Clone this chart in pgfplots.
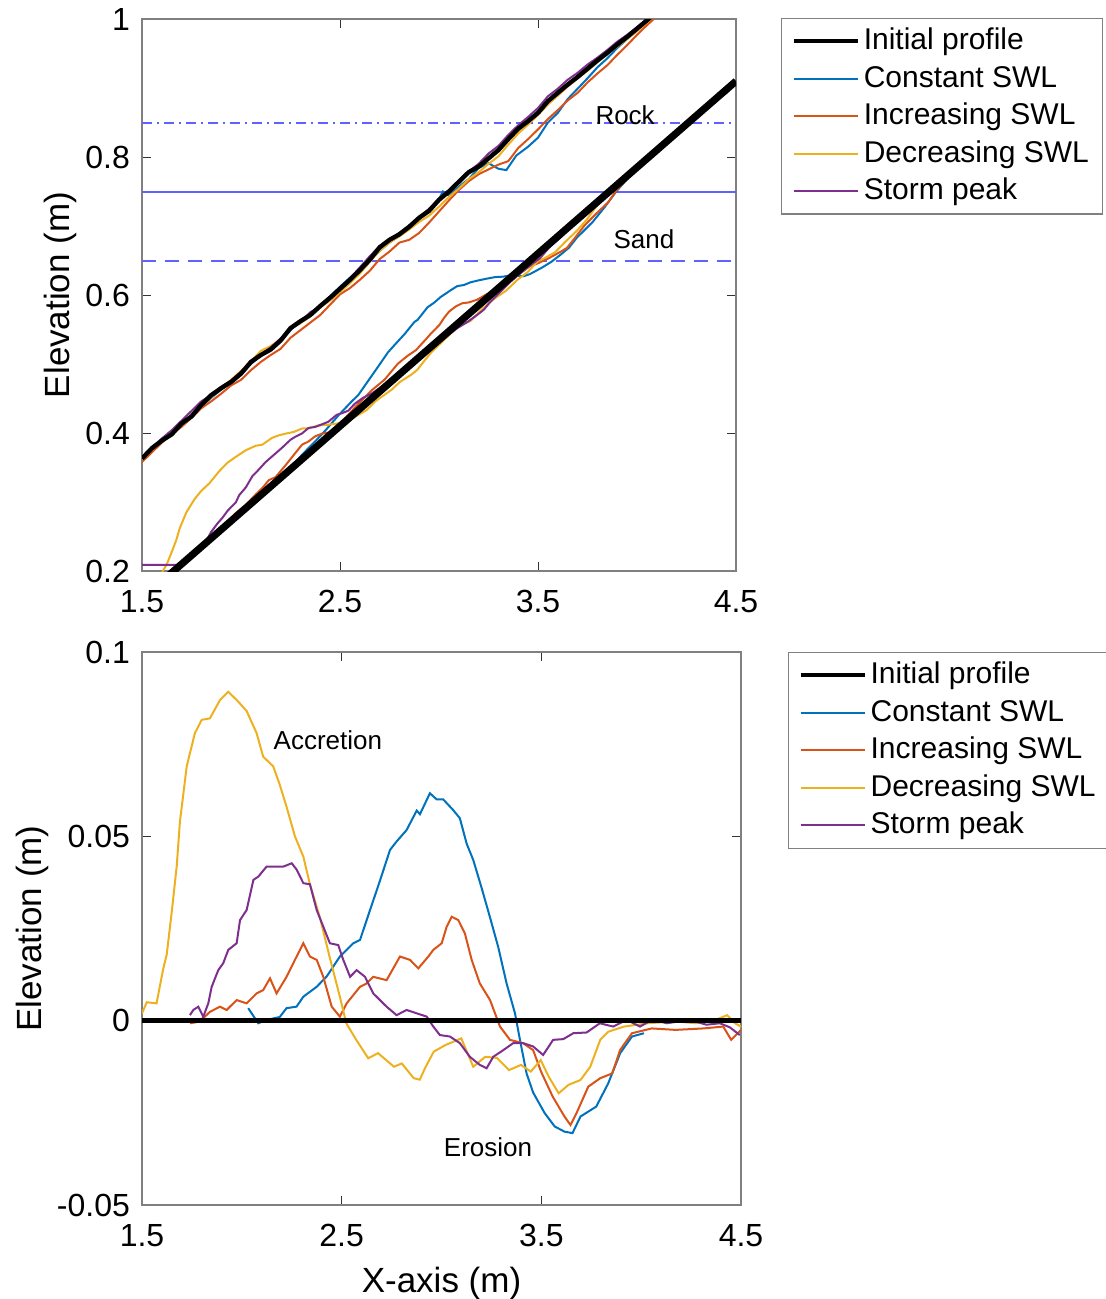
\documentclass[border=0pt]{standalone}
\usepackage{fontspec}
\setmainfont{Liberation Sans}
\usepackage{pgfplots}
\pgfplotsset{compat=1.18}
\definecolor{mblue}{rgb}{0,0.447,0.741}
\definecolor{morange}{rgb}{0.851,0.325,0.098}
\definecolor{myellow}{rgb}{0.929,0.694,0.125}
\definecolor{mpurple}{rgb}{0.494,0.184,0.557}
\definecolor{swlblue}{rgb}{0.38,0.38,1}
\definecolor{frame}{rgb}{0.5,0.5,0.5}

\pgfplotsset{
  matlab/.style={
    scale only axis,
    xmin=1.5, xmax=4.5,
    xtick={1.5,2.5,3.5,4.5},
    xticklabels={1.5,2.5,3.5,4.5},
    tick align=inside,
    major tick length=4.5pt,
    axis line style={frame, line width=0.6pt},
    tick style={black!80, line width=0.5pt},
    ticklabel style={font=\fontsize{16}{16}\selectfont},
    xticklabel style={yshift=-6pt},
    yticklabel style={xshift=-2.5pt},
    label style={font=\fontsize{17.5}{17.5}\selectfont},
    ylabel shift=-2.5pt,
    xlabel shift=3.5pt,
    legend cell align=left,
    legend style={draw=frame, line width=0.6pt, inner xsep=5pt, inner ysep=2pt,
      font=\fontsize{15}{15}\selectfont,
      nodes={inner ysep=2pt, inner xsep=2pt, text height=11.5pt, text depth=3.25pt}},
    legend image code/.code={\draw[#1] (0pt,0pt) -- (32pt,0pt);},
    every axis plot/.append style={line width=1pt},
  }
}

\begin{document}
\begin{tikzpicture}
\useasboundingbox (0,0) rectangle (552.5pt,-649.5pt);

% ---------- top: profiles ----------
\begin{axis}[matlab,
  at={(71pt,-285.5pt)}, anchor=south west,
  width=297pt, height=276pt,
  ymin=0.2, ymax=1,
  ytick={0.2,0.4,0.6,0.8,1}, yticklabels={0.2,0.4,0.6,0.8,1},
  ylabel={Elevation (m)},
  legend style={at={(1.076,1.002)}, anchor=north west},
]
\addlegendimage{black, line width=2pt}\addlegendentry{Initial profile}
\addlegendimage{mblue, line width=1pt}\addlegendentry{Constant SWL}
\addlegendimage{morange, line width=1pt}\addlegendentry{Increasing SWL}
\addlegendimage{myellow, line width=1pt}\addlegendentry{Decreasing SWL}
\addlegendimage{mpurple, line width=1pt}\addlegendentry{Storm peak}

% water levels
\addplot[forget plot, color=swlblue, line width=1pt, dash pattern=on 5pt off 2.5pt on 1pt off 2.5pt] coordinates {(1.5,0.85)(4.5,0.85)};
\addplot[forget plot, color=swlblue, line width=1pt, solid] coordinates {(1.5,0.75)(4.5,0.75)};
\addplot[forget plot, color=swlblue, line width=1pt, dash pattern=on 7pt off 4.5pt] coordinates {(1.5,0.65)(4.5,0.65)};

% rock, constant SWL
\addplot[forget plot, mblue] coordinates {
(1.50,0.361)(1.55,0.377)(1.60,0.387)(1.65,0.399)(1.70,0.413)(1.75,0.425)(1.80,0.439)(1.85,0.451)
(1.90,0.463)(1.95,0.475)(2.00,0.485)(2.05,0.500)(2.10,0.512)(2.15,0.522)(2.20,0.533)(2.25,0.549)
(2.30,0.563)(2.35,0.572)(2.40,0.585)(2.45,0.598)(2.50,0.612)(2.55,0.625)(2.60,0.637)(2.65,0.650)
(2.70,0.664)(2.75,0.676)(2.80,0.686)(2.85,0.698)(2.90,0.711)(2.95,0.722)(3.00,0.739)(3.02,0.750)
(3.05,0.744)(3.10,0.757)(3.15,0.768)(3.20,0.784)(3.25,0.791)(3.30,0.783)(3.34,0.781)(3.39,0.802)
(3.45,0.815)(3.50,0.828)(3.55,0.850)(3.60,0.864)(3.65,0.884)(3.70,0.899)(3.75,0.914)(3.80,0.930)
(3.85,0.943)(3.90,0.958)(3.95,0.971)(4.00,0.985)(4.05,1.000)(4.10,1.013)};
% rock, increasing SWL
\addplot[forget plot, morange] coordinates {
(1.50,0.358)(1.55,0.372)(1.60,0.386)(1.65,0.398)(1.70,0.409)(1.75,0.422)(1.80,0.436)(1.85,0.446)
(1.90,0.457)(1.95,0.469)(2.00,0.477)(2.05,0.491)(2.10,0.503)(2.15,0.513)(2.20,0.522)(2.25,0.538)
(2.30,0.549)(2.35,0.560)(2.40,0.571)(2.45,0.586)(2.50,0.601)(2.55,0.610)(2.60,0.622)(2.65,0.635)
(2.70,0.652)(2.75,0.663)(2.80,0.676)(2.85,0.680)(2.90,0.690)(2.95,0.705)(3.00,0.721)(3.05,0.737)
(3.10,0.752)(3.15,0.765)(3.20,0.775)(3.25,0.782)(3.30,0.789)(3.35,0.794)(3.40,0.813)(3.45,0.826)
(3.50,0.840)(3.55,0.855)(3.60,0.868)(3.65,0.882)(3.70,0.893)(3.75,0.908)(3.80,0.921)(3.85,0.933)
(3.90,0.948)(3.95,0.962)(4.00,0.977)(4.05,0.991)(4.10,1.004)};
% rock, decreasing SWL
\addplot[forget plot, myellow] coordinates {
(1.50,0.362)(1.55,0.376)(1.60,0.390)(1.65,0.401)(1.70,0.412)(1.75,0.427)(1.80,0.440)(1.85,0.452)
(1.90,0.466)(1.95,0.477)(2.00,0.490)(2.05,0.504)(2.10,0.519)(2.15,0.526)(2.20,0.536)(2.25,0.551)
(2.30,0.559)(2.35,0.569)(2.40,0.582)(2.45,0.592)(2.50,0.604)(2.55,0.617)(2.60,0.631)(2.65,0.648)
(2.70,0.664)(2.75,0.676)(2.80,0.685)(2.85,0.695)(2.90,0.706)(2.95,0.715)(3.00,0.728)(3.05,0.742)
(3.10,0.754)(3.15,0.768)(3.20,0.778)(3.25,0.790)(3.30,0.801)(3.35,0.818)(3.40,0.834)(3.45,0.847)
(3.50,0.861)(3.55,0.876)(3.60,0.889)(3.65,0.902)(3.70,0.914)(3.75,0.925)(3.80,0.937)(3.85,0.949)
(3.90,0.960)(3.95,0.971)(4.00,0.982)(4.05,0.995)(4.10,1.007)};
% rock, storm peak
\addplot[forget plot, mpurple] coordinates {
(1.50,0.364)(1.55,0.377)(1.60,0.392)(1.65,0.404)(1.70,0.418)(1.75,0.432)(1.80,0.446)(1.85,0.455)
(1.90,0.467)(1.95,0.476)(2.00,0.489)(2.05,0.502)(2.10,0.514)(2.15,0.524)(2.20,0.537)(2.25,0.550)
(2.30,0.561)(2.35,0.575)(2.40,0.583)(2.45,0.597)(2.50,0.611)(2.55,0.624)(2.60,0.640)(2.65,0.656)
(2.70,0.671)(2.75,0.680)(2.80,0.690)(2.85,0.701)(2.90,0.713)(2.95,0.725)(3.00,0.739)(3.05,0.752)
(3.10,0.766)(3.15,0.779)(3.20,0.790)(3.25,0.805)(3.30,0.816)(3.35,0.832)(3.40,0.846)(3.45,0.858)
(3.50,0.871)(3.55,0.888)(3.60,0.899)(3.65,0.912)(3.70,0.922)(3.75,0.934)(3.80,0.944)(3.85,0.955)
(3.90,0.967)(3.95,0.977)(4.00,0.988)(4.05,1.000)(4.10,1.012)};
% rock, initial
\addplot[forget plot, black, line width=2.2pt] coordinates {
(1.50,0.363)(1.55,0.378)(1.60,0.389)(1.65,0.398)(1.70,0.414)(1.75,0.424)(1.80,0.441)(1.85,0.455)
(1.90,0.465)(1.95,0.474)(2.00,0.486)(2.05,0.503)(2.10,0.513)(2.15,0.521)(2.20,0.534)(2.25,0.552)
(2.30,0.562)(2.35,0.571)(2.40,0.584)(2.45,0.596)(2.50,0.609)(2.55,0.622)(2.60,0.636)(2.65,0.651)
(2.70,0.669)(2.75,0.680)(2.80,0.688)(2.85,0.699)(2.90,0.712)(2.95,0.722)(3.00,0.738)(3.05,0.750)
(3.10,0.764)(3.15,0.778)(3.20,0.786)(3.25,0.798)(3.30,0.810)(3.35,0.826)(3.40,0.841)(3.45,0.852)
(3.50,0.864)(3.55,0.881)(3.60,0.893)(3.65,0.905)(3.70,0.916)(3.75,0.928)(3.80,0.940)(3.85,0.951)
(3.90,0.963)(3.95,0.974)(4.00,0.986)(4.05,0.998)(4.10,1.010)};

% sand, constant SWL
\addplot[forget plot, mblue] coordinates {
(2.032,0.2964)(2.082,0.3048)(2.124,0.3162)(2.19,0.3335)(2.224,0.3444)(2.274,0.3573)(2.308,0.3685)
(2.375,0.388)(2.425,0.4033)(2.491,0.4252)(2.558,0.4455)(2.592,0.4549)(2.642,0.4755)(2.692,0.496)
(2.742,0.5168)(2.775,0.5274)(2.825,0.543)(2.876,0.561)(2.892,0.564)(2.942,0.5822)(2.976,0.589)
(3.009,0.5973)(3.059,0.6069)(3.092,0.6129)(3.126,0.6145)(3.159,0.6184)(3.201,0.6213)(3.243,0.6238)
(3.284,0.626)(3.326,0.6266)(3.368,0.629)(3.393,0.628)(3.426,0.6272)(3.459,0.6303)(3.517,0.6392)
(3.567,0.648)(3.616,0.6589)(3.656,0.6685)(3.696,0.683)(3.775,0.7055)(3.835,0.7268)(3.895,0.75)
(3.954,0.7692)(4.014,0.7851)(4.2,0.832)(4.5,0.906)};
% sand, increasing SWL
\addplot[forget plot, morange] coordinates {
(1.740,0.2193)(1.774,0.2281)(1.815,0.2399)(1.84,0.2474)(1.891,0.2616)(1.924,0.2689)(1.974,0.2841)
(2.024,0.2957)(2.074,0.3109)(2.107,0.3201)(2.141,0.3318)(2.174,0.3359)(2.224,0.3529)(2.266,0.368)
(2.308,0.383)(2.341,0.3877)(2.375,0.3953)(2.408,0.3989)(2.45,0.4013)(2.491,0.4089)(2.525,0.421)
(2.592,0.4422)(2.625,0.4514)(2.658,0.4614)(2.725,0.4773)(2.792,0.5004)(2.842,0.512)(2.884,0.5202)
(2.934,0.5359)(2.959,0.544)(3.001,0.5563)(3.026,0.567)(3.051,0.576)(3.084,0.5833)(3.117,0.588)
(3.151,0.5893)(3.192,0.5931)(3.243,0.6014)(3.293,0.6067)(3.343,0.6156)(3.409,0.6312)(3.459,0.6418)
(3.5,0.646)(3.557,0.6537)(3.616,0.663)(3.646,0.6682)(3.676,0.6789)(3.735,0.7009)(3.795,0.7182)
(3.855,0.7345)(3.895,0.7509)(3.954,0.7701)(4.053,0.7962)(4.172,0.8255)(4.312,0.8609)(4.411,0.8862)
(4.451,0.8926)(4.5,0.9075)};
% sand, decreasing SWL
\addplot[forget plot, myellow] coordinates {
(1.573,0.183)(1.606,0.2005)(1.624,0.209)(1.65,0.2275)(1.674,0.2455)(1.69,0.2615)(1.724,0.285)
(1.765,0.304)(1.799,0.316)(1.84,0.327)(1.891,0.345)(1.932,0.357)(1.974,0.3655)(2.024,0.375)
(2.074,0.3815)(2.107,0.383)(2.157,0.393)(2.19,0.3965)(2.224,0.399)(2.266,0.4015)(2.308,0.4065)
(2.341,0.407)(2.391,0.411)(2.441,0.412)(2.491,0.414)(2.523,0.415)(2.573,0.423)(2.633,0.433)
(2.682,0.4467)(2.762,0.463)(2.801,0.4737)(2.861,0.4847)(2.891,0.4918)(2.921,0.5028)(2.961,0.5169)
(3.02,0.5334)(3.099,0.555)(3.159,0.5623)(3.219,0.58)(3.278,0.5944)(3.338,0.6061)(3.398,0.6225)
(3.447,0.633)(3.497,0.6486)(3.537,0.654)(3.587,0.662)(3.636,0.6766)(3.696,0.693)(3.745,0.7088)
(3.795,0.7286)(3.835,0.7408)(3.914,0.762)(4.033,0.7926)(4.172,0.8278)(4.272,0.8523)(4.371,0.878)
(4.431,0.8943)(4.5,0.9084)};
% sand, storm peak
\addplot[forget plot, mpurple] coordinates {
(1.5,0.209)(1.68,0.209)(1.740,0.2215)(1.757,0.2272)(1.782,0.2343)(1.807,0.2379)(1.832,0.2477)
(1.849,0.2565)(1.882,0.2692)(1.907,0.2774)(1.932,0.2872)(1.974,0.2995)(1.991,0.31)(2.024,0.321)
(2.058,0.3377)(2.083,0.3449)(2.124,0.3578)(2.174,0.3703)(2.208,0.3788)(2.25,0.3902)(2.274,0.3945)
(2.308,0.3993)(2.341,0.4073)(2.375,0.4088)(2.408,0.4125)(2.441,0.4163)(2.483,0.4263)(2.508,0.4285)
(2.542,0.4324)(2.575,0.4425)(2.617,0.4512)(2.658,0.4569)(2.725,0.4701)(2.775,0.4803)(2.825,0.4942)
(2.876,0.506)(2.926,0.5176)(2.959,0.5232)(2.992,0.5291)(3.042,0.5412)(3.092,0.5519)(3.142,0.5607)
(3.192,0.571)(3.226,0.5786)(3.259,0.59)(3.309,0.6043)(3.359,0.6187)(3.409,0.6312)(3.459,0.6428)
(3.509,0.653)(3.559,0.6696)(3.61,0.6825)(3.66,0.6966)(3.727,0.7136)(3.793,0.7326)(3.86,0.7484)
(3.927,0.767)(3.994,0.7819)(4.06,0.8004)(4.127,0.8161)(4.244,0.8462)(4.327,0.8657)(4.394,0.8828)
(4.444,0.8942)(4.494,0.9046)};
% sand, initial
\addplot[forget plot, black, line width=3.6pt] coordinates {(1.62,0.19)(2.5,0.41)(3.5,0.66)(4.5,0.91)};

\node[font=\fontsize{13}{13}\selectfont] at (axis cs:3.94,0.861) {Rock};
\node[font=\fontsize{13}{13}\selectfont] at (axis cs:4.035,0.681) {Sand};
\end{axis}

% ---------- bottom: change ----------
\begin{axis}[matlab,
  at={(71pt,-602.5pt)}, anchor=south west,
  width=299.5pt, height=276.5pt,
  ymin=-0.05, ymax=0.1,
  ytick={-0.05,0,0.05,0.1}, yticklabels={-0.05,0,0.05,0.1},
  ylabel={Elevation (m)}, xlabel={X-axis (m)},
  legend style={at={(1.0785,1.0)}, anchor=north west},
]
\addlegendimage{black, line width=2pt}\addlegendentry{Initial profile}
\addlegendimage{mblue, line width=1pt}\addlegendentry{Constant SWL}
\addlegendimage{morange, line width=1pt}\addlegendentry{Increasing SWL}
\addlegendimage{myellow, line width=1pt}\addlegendentry{Decreasing SWL}
\addlegendimage{mpurple, line width=1pt}\addlegendentry{Storm peak}

\addplot[forget plot, mblue] coordinates {
(2.032,0.0034)(2.082,-0.0007)(2.124,0.0002)(2.19,0.001)(2.224,0.0034)(2.274,0.0038)(2.308,0.0065)
(2.375,0.0092)(2.425,0.012)(2.491,0.0174)(2.558,0.021)(2.592,0.0219)(2.642,0.030)(2.692,0.038)
(2.742,0.0463)(2.775,0.0486)(2.825,0.0517)(2.876,0.057)(2.892,0.056)(2.942,0.0617)(2.976,0.060)
(3.009,0.060)(3.059,0.0571)(3.092,0.0549)(3.126,0.048)(3.159,0.0436)(3.201,0.036)(3.243,0.028)
(3.284,0.020)(3.326,0.0101)(3.368,0.002)(3.393,-0.0052)(3.426,-0.0143)(3.459,-0.0195)(3.517,-0.0251)
(3.567,-0.0287)(3.616,-0.0301)(3.656,-0.0305)(3.696,-0.026)(3.775,-0.0233)(3.835,-0.017)
(3.895,-0.0088)(3.954,-0.0043)(4.014,-0.0034)};
\addplot[forget plot, morange] coordinates {
(1.740,-0.0007)(1.774,-0.0004)(1.815,0.0011)(1.84,0.0024)(1.891,0.0038)(1.924,0.0029)(1.974,0.0056)
(2.024,0.0047)(2.074,0.0074)(2.107,0.0083)(2.141,0.0115)(2.174,0.0074)(2.224,0.0119)(2.266,0.0165)
(2.308,0.021)(2.341,0.0174)(2.375,0.0165)(2.408,0.0119)(2.45,0.0038)(2.491,0.0011)(2.525,0.0047)
(2.592,0.0092)(2.625,0.0101)(2.658,0.0119)(2.725,0.011)(2.792,0.0174)(2.842,0.0165)(2.884,0.0142)
(2.934,0.0174)(2.959,0.0192)(3.001,0.021)(3.026,0.0255)(3.051,0.0282)(3.084,0.0273)(3.117,0.0237)
(3.151,0.0165)(3.192,0.0101)(3.243,0.0056)(3.293,-0.0016)(3.343,-0.0052)(3.409,-0.0061)(3.459,-0.008)
(3.5,-0.014)(3.557,-0.0206)(3.616,-0.026)(3.646,-0.0283)(3.676,-0.0251)(3.735,-0.0179)(3.795,-0.0156)
(3.855,-0.0143)(3.895,-0.0079)(3.954,-0.0034)(4.053,-0.0021)(4.172,-0.0025)(4.312,-0.0021)
(4.411,-0.0016)(4.451,-0.0052)(4.5,-0.0025)};
\addplot[forget plot, myellow] coordinates {
(1.5,0.002)(1.524,0.005)(1.573,0.0047)(1.606,0.014)(1.624,0.018)(1.65,0.030)(1.674,0.042)(1.69,0.054)
(1.724,0.069)(1.765,0.078)(1.799,0.0816)(1.84,0.082)(1.891,0.087)(1.932,0.0892)(1.974,0.087)
(2.024,0.084)(2.074,0.078)(2.107,0.0716)(2.157,0.069)(2.19,0.064)(2.224,0.058)(2.266,0.050)
(2.308,0.0445)(2.341,0.037)(2.391,0.028)(2.441,0.017)(2.491,0.0065)(2.523,-0.0007)(2.573,-0.0052)
(2.633,-0.0102)(2.682,-0.0088)(2.762,-0.0125)(2.801,-0.0116)(2.861,-0.0156)(2.891,-0.016)
(2.921,-0.0125)(2.961,-0.0084)(3.02,-0.0066)(3.099,-0.0048)(3.159,-0.0125)(3.219,-0.0098)
(3.278,-0.0101)(3.338,-0.0134)(3.398,-0.012)(3.447,-0.0138)(3.497,-0.0107)(3.537,-0.0152)
(3.587,-0.0197)(3.636,-0.0174)(3.696,-0.0161)(3.745,-0.0125)(3.795,-0.0052)(3.835,-0.003)
(3.914,-0.0016)(4.033,-0.0007)(4.172,-0.0002)(4.272,-0.0007)(4.371,0.0002)(4.431,0.0015)
(4.47,-0.0007)(4.5,-0.0016)};
\addplot[forget plot, mpurple] coordinates {
(1.740,0.0015)(1.757,0.0029)(1.782,0.0038)(1.807,0.0011)(1.832,0.0047)(1.849,0.0092)(1.882,0.0137)
(1.907,0.0156)(1.932,0.0192)(1.974,0.021)(1.991,0.0273)(2.024,0.030)(2.058,0.0382)(2.083,0.0391)
(2.124,0.0418)(2.174,0.0418)(2.208,0.0418)(2.25,0.0427)(2.274,0.041)(2.308,0.0373)(2.341,0.037)
(2.375,0.030)(2.408,0.0255)(2.441,0.021)(2.483,0.0205)(2.508,0.0165)(2.542,0.0119)(2.575,0.0137)
(2.617,0.0119)(2.658,0.0074)(2.725,0.0038)(2.775,0.0015)(2.825,0.0029)(2.876,0.0020)(2.926,0.0011)
(2.959,-0.0016)(2.992,-0.0039)(3.042,-0.0043)(3.092,-0.0061)(3.142,-0.0098)(3.192,-0.012)
(3.226,-0.0129)(3.259,-0.0098)(3.309,-0.008)(3.359,-0.0061)(3.409,-0.0061)(3.459,-0.007)
(3.509,-0.0093)(3.559,-0.0052)(3.61,-0.005)(3.66,-0.0034)(3.727,-0.0032)(3.793,-0.0007)
(3.86,-0.0016)(3.927,0.0002)(3.994,-0.0016)(4.06,0.0004)(4.127,-0.0007)(4.244,0.0002)
(4.327,-0.0011)(4.394,-0.0007)(4.444,-0.0018)(4.494,-0.0039)};
\addplot[forget plot, black, line width=2.4pt] coordinates {(1.5,0)(4.5,0)};

\node[font=\fontsize{13}{13}\selectfont] at (axis cs:2.431,0.0761) {Accretion};
\node[font=\fontsize{13}{13}\selectfont] at (axis cs:3.233,-0.0343) {Erosion};
\end{axis}
\end{tikzpicture}
\end{document}
